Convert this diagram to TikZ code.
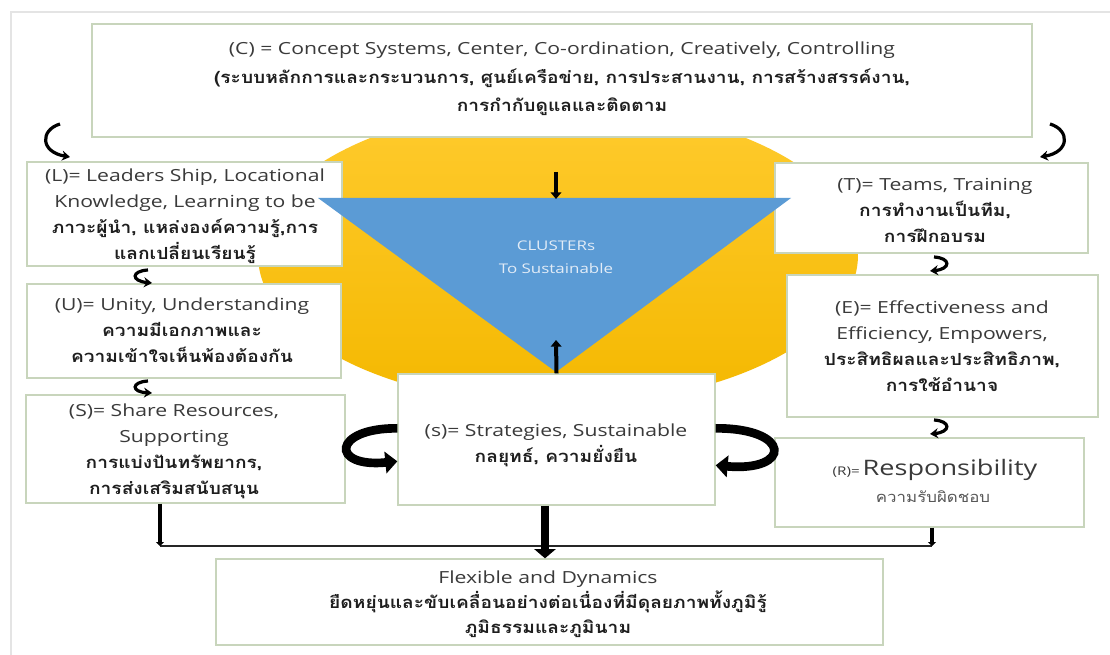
\documentclass[tikz,border=0pt]{standalone}
\usepackage{fontspec}
\setmainfont{Open Sans}[FakeStretch=1.27]
\newfontfamily\thaifont[Script=Thai, FakeStretch=1.15]{Loma}
\usetikzlibrary{arrows.meta,fit,calc}
\definecolor{boxline}{HTML}{C8D5BC}
\definecolor{txtc}{HTML}{3A3A3A}
\definecolor{thaic}{HTML}{1E1E1E}
\definecolor{tblue}{HTML}{5B9BD5}
\definecolor{ytop}{HTML}{FFCB2E}
\definecolor{ybot}{HTML}{F4B800}
\definecolor{framec}{HTML}{E4E4E4}
\definecolor{tritext}{HTML}{E2ECF7}
\newcommand{\thb}[1]{{\thaifont\bfseries\color{thaic}#1}}
\tikzset{
  box/.style={draw=boxline, line width=1pt, fill=white, inner sep=0pt},
  txt/.style={text=txtc, font=\fontsize{12.5}{19.5}\selectfont, align=center, inner sep=0pt},
  smallarrow/.style={line width=2.4pt, -{Stealth[length=6pt,width=7.5pt]}},
  bigcurve/.style={line width=6.5pt, -{Triangle[length=9pt,width=16pt]}},
  bigdown/.style={line width=6pt, -{Triangle[length=7pt,width=16pt]}},
  thinv/.style={line width=2.8pt, -{Triangle[length=3pt,width=6pt]}},
  triarrow/.style={line width=3pt, -{Triangle[length=5pt,width=8pt]}},
}
\begin{document}
\begin{tikzpicture}[x=0.75pt,y=-0.75pt]
\useasboundingbox (0,0) rectangle (1110,655);
\fill[white] (0,0) rectangle (1110,655);
\draw[framec, line width=1pt] (11,655) -- (11,12) -- (1110,12);

% yellow ellipse
\shade[top color=ytop, bottom color=ybot] (558,255) ellipse [x radius=300, y radius=150];

% boxes
\node[box, fit={(92,24) (1032,137)}] (C) {};
\node[box, fit={(27,162) (342,266)}] (L) {};
\node[box, fit={(27,284) (341,378)}] (U) {};
\node[box, fit={(26,395) (345,503)}] (S) {};
\node[box, fit={(775,163) (1088,253)}] (T) {};
\node[box, fit={(787,275) (1098,417)}] (E) {};
\node[box, fit={(775,438) (1084,527)}] (R) {};
\node[box, fit={(216,559) (883,645)}] (F) {};

% blue triangle (over L and T box edges)
\fill[tblue] (318,198) -- (791,198) -- (556,372) -- cycle;
\node[text=tritext, font=\fontsize{10}{17}\selectfont, align=center] (tri) at (556,257) {CLUSTERs\\To Sustainable};

\node[box, fit={(398,374) (715,505)}] (s) {};

% texts
\node[txt, font=\fontsize{12.5}{21.4}\selectfont] (Ct) at (562,79) {(C) = Concept Systems, Center, Co-ordination, Creatively, Controlling\\
\thb{(ระบบหลักการและกระบวนการ, ศูนย์เครือข่าย, การประสานงาน, การสร้างสรรค์งาน,}\\
\thb{การกำกับดูแลและติดตาม}};
\node[txt] (Lt) at (185,216) {(L)= Leaders Ship, Locational\\Knowledge, Learning to be\\
\thb{ภาวะผู้นำ, แหล่งองค์ความรู้,การ}\\\thb{แลกเปลี่ยนเรียนรู้}};
\node[txt] (Ut) at (182,330) {(U)= Unity, Understanding\\\thb{ความมีเอกภาพและ}\\\thb{ความเข้าใจเห็นพ้องต้องกัน}};
\node[txt] (St) at (174,451) {(S)= Share Resources,\\Supporting\\\thb{การแบ่งปันทรัพยากร,}\\\thb{การส่งเสริมสนับสนุน}};
\node[txt] (sT) at (556,445) {(s)= Strategies, Sustainable\\\thb{กลยุทธ์, ความยั่งยืน}};
\node[txt] (Tt) at (935,210) {(T)= Teams, Training\\\thb{การทำงานเป็นทีม,}\\\thb{การฝึกอบรม}};
\node[txt] (Et) at (942,346) {(E)= Effectiveness and\\Efficiency, Empowers,\\\thb{ประสิทธิผลและประสิทธิภาพ,}\\\thb{การใช้อำนาจ}};
\node[txt, anchor=base] (Rt1) at (935,476) {{\fontsize{9}{10}\selectfont (R)=}\,{\fontsize{16}{20}\selectfont Responsibility}};
\node[txt, anchor=base] (Rt2) at (933,503) {{\fontsize{11}{14}\thaifont\color{txtc!85}ความรับผิดชอบ}};
\node[txt, font=\fontsize{12.5}{18.75}\selectfont] (Ft) at (548,604) {Flexible and Dynamics\\
\thb{ยืดหยุ่นและขับเคลื่อนอย่างต่อเนื่องที่มีดุลยภาพทั้งภูมิรู้}\\\thb{ภูมิธรรมและภูมินาม}};

% small curved arrows
\coordinate (a1s) at (60,124);  \coordinate (a1e) at (70,157);
\coordinate (a2s) at (1050,124); \coordinate (a2e) at (1040,157);
\coordinate (a3s) at (148,270); \coordinate (a3e) at (152,283);
\coordinate (a4s) at (148,381); \coordinate (a4e) at (152,393);
\coordinate (a5s) at (934,257); \coordinate (a5e) at (930,271);
\coordinate (a6s) at (934,420); \coordinate (a6e) at (930,434);
\draw[smallarrow] (a1s) .. controls (40,130) and (40,152) .. (a1e);
\draw[smallarrow] (a2s) .. controls (1070,130) and (1070,152) .. (a2e);
\draw[smallarrow] (a3s) .. controls (131,271) and (131,281) .. (a3e);
\draw[smallarrow] (a4s) .. controls (131,382) and (131,392) .. (a4e);
\draw[smallarrow] (a5s) .. controls (951,258) and (951,269) .. (a5e);
\draw[smallarrow] (a6s) .. controls (951,421) and (951,432) .. (a6e);

% big curved arrows at s box
\draw[bigcurve] ([yshift=-41.25pt]s.north west) .. controls (332,428) and (330,468) .. ([yshift=-66pt]s.north west);
\draw[bigcurve] ([yshift=-41.25pt]s.north east) .. controls (792,428) and (792,472) .. ([yshift=-69pt]s.north east);

% triangle arrows
\coordinate (tdn) at (556,172);
\coordinate (tup) at (556,340);
\draw[triarrow] (tdn) -- (556,199);
\draw[triarrow] (s.north) -- (tup);

% bottom connectors
\coordinate (jL) at (160,546);
\coordinate (jR) at (932,546);
\draw[line width=1pt, black!85] (jL) -- (jR);
\draw[thinv] (S.south -| jL) -- (jL);
\draw[thinv] (R.south -| jR) -- (jR);
\draw[bigdown] (s.south -| 545,0) -- (F.north -| 545,0);
\end{tikzpicture}
\end{document}
